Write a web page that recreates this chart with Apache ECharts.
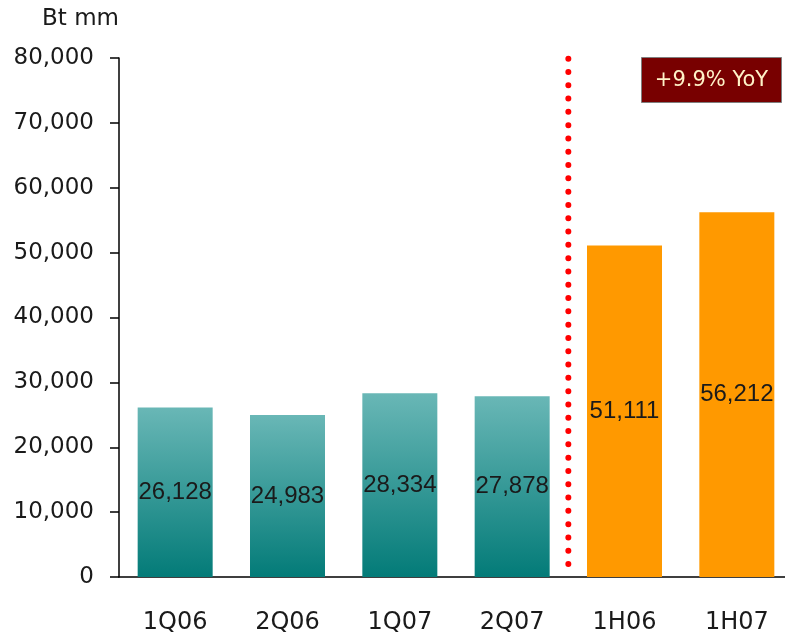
<!DOCTYPE html>
<html>
<head>
<meta charset="utf-8">
<script src="https://cdn.jsdelivr.net/npm/echarts@6/dist/echarts.min.js"></script>
<style>
  html, body { margin: 0; padding: 0; background: #fff; overflow: hidden; }
  #chart { width: 795px; height: 636px; }
</style>
</head>
<body>
<div id="chart"></div>
<script>
// data
const categories = ['1Q06', '2Q06', '1Q07', '2Q07', '1H06', '1H07']
const quarterValues = [26128, 24983, 28334, 27878, null, null]
const halfValues = [null, null, null, null, 51111, 56212]
const yTicks = [0, 10000, 20000, 30000, 40000, 50000, 60000, 70000, 80000]
const dividerAt = 4 // boundary between quarters and halves
const yoyText = '+9.9% YoY'

const axisFont = 'DejaVu Sans'
const barFont = 'Liberation Sans'
const textColor = '#1a1a1a'

const chart = echarts.init(document.getElementById('chart'))

const fmt = v => v.toLocaleString('en-US')

const labelStyle = {
  show: true,
  position: 'inside',
  color: textColor,
  fontFamily: barFont,
  fontSize: 24,
  formatter: p => fmt(p.value)
}

chart.setOption({
  animation: false,
  backgroundColor: '#ffffff',
  // container is a bit wider than the window so the last category runs off the edge
  grid: { left: 119, top: 58, bottom: 59, width: 674 },
  xAxis: [
    {
      type: 'category',
      data: categories,
      axisLine: { lineStyle: { color: '#000', width: 1.5 } },
      axisTick: { show: false },
      axisLabel: { color: textColor, fontFamily: axisFont, fontSize: 24, margin: 34 }
    },
    { type: 'value', min: 0, max: categories.length, show: false }
  ],
  yAxis: {
    type: 'value',
    min: yTicks[0],
    max: yTicks[yTicks.length - 1],
    interval: 10000,
    name: 'Bt mm',
    nameLocation: 'end',
    nameGap: 27,
    nameTextStyle: { color: textColor, fontFamily: axisFont, fontSize: 23, align: 'right' },
    axisLine: { show: true, lineStyle: { color: '#000', width: 1.5 } },
    axisTick: { show: true, length: 9, lineStyle: { color: '#000', width: 1.5 } },
    splitLine: { show: false },
    axisLabel: { color: textColor, fontFamily: axisFont, fontSize: 23, margin: 25, formatter: v => fmt(v) }
  },
  series: [
    {
      type: 'bar',
      stack: 'all',
      data: quarterValues,
      barWidth: 75,
      itemStyle: {
        color: new echarts.graphic.LinearGradient(0, 0, 0, 1, [
          { offset: 0, color: '#69b7b6' },
          { offset: 1, color: '#037b78' }
        ])
      },
      label: labelStyle
    },
    {
      type: 'bar',
      stack: 'all',
      data: halfValues,
      barWidth: 75,
      itemStyle: { color: '#ff9900' },
      label: labelStyle
    },
    {
      // dotted divider
      type: 'line',
      xAxisIndex: 1,
      data: [[dividerAt, 2000], [dividerAt, 80500]],
      symbol: 'none',
      clip: false,
      lineStyle: { color: '#ff0000', width: 6, type: [0, 13.3], cap: 'round' },
      z: 5
    }
  ],
  graphic: [
    {
      type: 'group',
      left: 641,
      top: 57,
      children: [
        {
          type: 'rect',
          shape: { x: 0, y: 0, width: 140, height: 45 },
          style: { fill: '#780000', stroke: '#7f7f7f', lineWidth: 1 }
        },
        {
          type: 'text',
          x: 70,
          y: 23,
          style: {
            text: yoyText,
            fill: '#fff3c8',
            font: '21px "' + axisFont + '"',
            align: 'center',
            verticalAlign: 'middle'
          }
        }
      ]
    }
  ]
})
</script>
</body>
</html>
